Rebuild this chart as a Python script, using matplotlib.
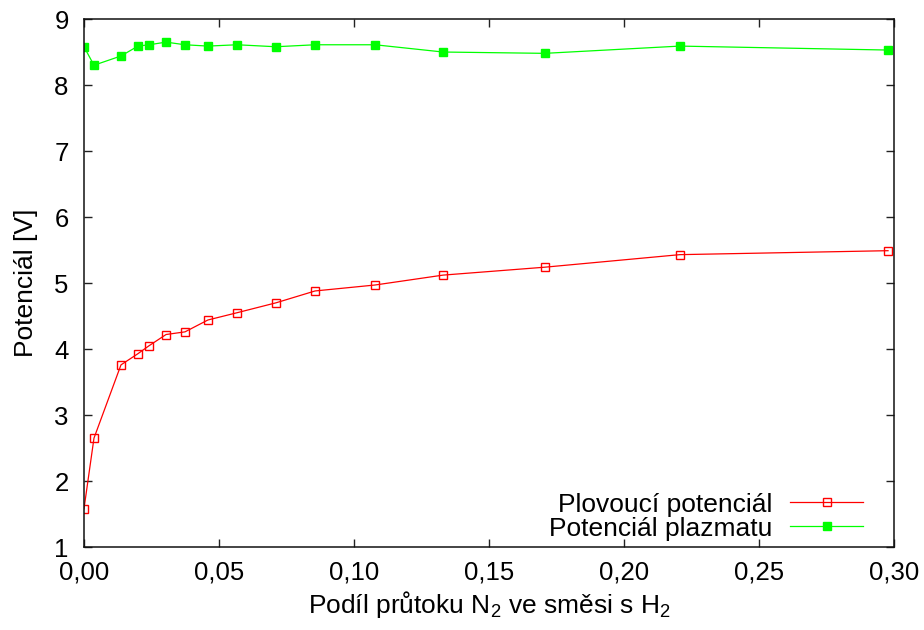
import matplotlib
matplotlib.use("Agg")
import matplotlib.pyplot as plt
from matplotlib.ticker import FuncFormatter, MultipleLocator

plt.rcParams["font.family"] = ["Liberation Sans", "DejaVu Sans"]
plt.rcParams["mathtext.fontset"] = "custom"
plt.rcParams["mathtext.rm"] = "Liberation Sans"
plt.rcParams["mathtext.it"] = "Liberation Sans:italic"

# N2 fraction in the N2/H2 flow
podil_n2 = [0.0, 0.0037, 0.0137, 0.0200, 0.0241, 0.0304, 0.0374, 0.0459,
            0.0567, 0.0711, 0.0856, 0.1078, 0.1330, 0.1707, 0.2207, 0.2978]
# floating potential [V]
plovouci = [1.58, 2.65, 3.76, 3.93, 4.05, 4.22, 4.26, 4.44,
            4.55, 4.70, 4.88, 4.97, 5.12, 5.24, 5.43, 5.49]
# plasma potential [V]
plazma = [8.58, 8.30, 8.44, 8.59, 8.61, 8.65, 8.61, 8.59,
          8.61, 8.58, 8.61, 8.61, 8.50, 8.48, 8.59, 8.53]

FS = 19

fig = plt.figure(figsize=(9.24, 6.30), dpi=100)
ax = fig.add_axes([0.0909, 0.1317, 0.8766, 0.8381])

ax.plot(podil_n2, plovouci, color="#ff0000", lw=0.9, marker="s", ms=6,
        mfc="none", mec="#ff0000", mew=1.0, label="Plovoucí potenciál")
ax.plot(podil_n2, plazma, color="#00ff00", lw=0.9, marker="s", ms=6,
        mfc="#00ff00", mec="#00ff00", label="Potenciál plazmatu")

ax.set_xlim(0, 0.30)
ax.set_ylim(1, 9)
ax.xaxis.set_major_locator(MultipleLocator(0.05))
ax.yaxis.set_major_locator(MultipleLocator(1))
ax.xaxis.set_major_formatter(FuncFormatter(lambda v, p: f"{v:.2f}".replace(".", ",")))
ax.yaxis.set_major_formatter(FuncFormatter(lambda v, p: f"{v:.0f}"))
ax.tick_params(direction="in", length=6, width=1.0, top=True, right=True,
               labelsize=18.5, color="#222222")
ax.tick_params(axis="x", pad=10)
ax.tick_params(axis="y", pad=11)
for s in ax.spines.values():
    s.set_linewidth(1.1)
    s.set_color("#111111")

ax.set_xlabel("Podíl průtoku N$_2$ ve směsi s H$_2$", fontsize=FS, labelpad=3)
ax.set_ylabel("Potenciál [V]", fontsize=FS, labelpad=12)

ax.legend(loc="lower right", bbox_to_anchor=(0.9617, 0.012), frameon=False,
          markerfirst=False, handlelength=2.75, fontsize=FS, labelspacing=0.0,
          handletextpad=0.68, borderaxespad=0, borderpad=0)

fig.savefig("out.png", dpi=100, facecolor="white")
